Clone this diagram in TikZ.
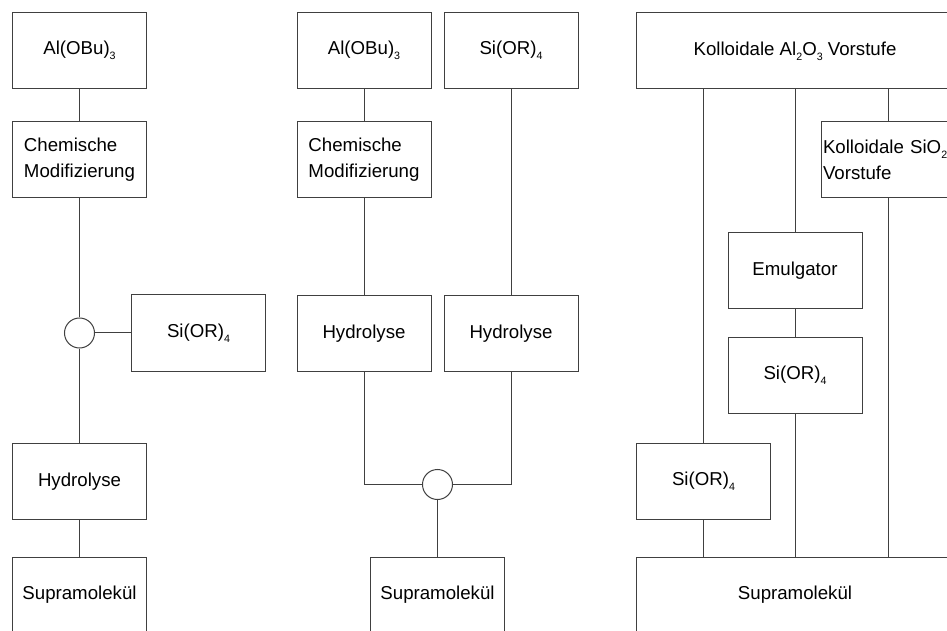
\documentclass[tikz,border=0pt]{standalone}
\usepackage{fontspec}
\setmainfont{Liberation Sans}
\newcommand{\chemsub}[1]{\raisebox{-3.5pt}{\fontsize{8}{9}\selectfont #1}}

\tikzset{every picture/.style={line width=0.75pt}}
\tikzset{
  stepbox/.style={draw=black!75, minimum width=100.5pt, minimum height=57pt, inner sep=0pt, align=center, font=\fontsize{14}{19.5}\selectfont},
  widebox/.style={stepbox, minimum width=237.75pt},
  joint/.style={draw=black!75, circle, minimum size=22.5pt, inner sep=0pt},
  link/.style={draw=black!75}
}

\begin{document}
\begin{tikzpicture}[x=0.75pt,y=0.75pt,yscale=-1,xscale=1]
\useasboundingbox (0,0) rectangle (947,631);
\clip (0,0) rectangle (947,631);

%Left route
\node [stepbox] (al1) at (79.5,50.5) {Al(OBu)\chemsub{3}};
\node [stepbox, align=left] (chem1) at (79.5,159.5) {Chemische\\Modifizierung};
\node [joint] (mix1) at (79.5,333) {};
\node [stepbox] (si1) at (198.5,333) {Si(OR)\chemsub{4}};
\node [stepbox] (hyd1) at (79.5,481.5) {Hydrolyse};
\node [stepbox] (sup1) at (79.5,595) {Supramolekül};

%Straight Lines
\draw [link] (al1) -- (chem1);
\draw [link] (chem1) -- (mix1);
\draw [link] (mix1) -- (si1);
\draw [link] (mix1) -- (hyd1);
\draw [link] (hyd1) -- (sup1);

%Middle route
\node [stepbox] (al2) at (364,50.5) {Al(OBu)\chemsub{3}};
\node [stepbox] (si2) at (511,50.5) {Si(OR)\chemsub{4}};
\node [stepbox, align=left] (chem2) at (364,159.5) {Chemische\\Modifizierung};
\node [stepbox] (hyd2) at (364,333.5) {Hydrolyse};
\node [stepbox] (hyd3) at (511,333.5) {Hydrolyse};
\node [joint] (mix2) at (437.5,484.5) {};
\node [stepbox] (sup2) at (437.5,595) {Supramolekül};

%Straight Lines
\draw [link] (al2) -- (chem2);
\draw [link] (chem2) -- (hyd2);
\draw [link] (si2) -- (hyd3);
\draw [link] (hyd2.south) |- (mix2.west);
\draw [link] (hyd3.south) |- (mix2.east);
\draw [link] (mix2) -- (sup2);

%Right route
\node [widebox] (kal) at (795,51) {Kolloidale Al\chemsub{2}O\chemsub{3} Vorstufe};
\node [stepbox, align=left, text width=97.5pt, inner xsep=1.5pt] (ksi) at (888,160) {\mbox{Kolloidale SiO\chemsub{2}}\\Vorstufe};
\node [stepbox] (emul) at (795,271) {Emulgator};
\node [stepbox] (si3) at (795,375.5) {Si(OR)\chemsub{4}};
\node [stepbox] (si4) at (703.5,481) {Si(OR)\chemsub{4}};
\node [widebox] (sup3) at (795,595) {Supramolekül};

%Straight Lines
\draw [link] (si4.north |- kal.south) -- (si4.north);
\draw [link] (si4.south) -- (si4.south |- sup3.north);
\draw [link] (kal) -- (emul);
\draw [link] (emul) -- (si3);
\draw [link] (si3) -- (sup3);
\draw [link] (ksi.north |- kal.south) -- (ksi.north);
\draw [link] (ksi.south) -- (ksi.south |- sup3.north);

\end{tikzpicture}
\end{document}
